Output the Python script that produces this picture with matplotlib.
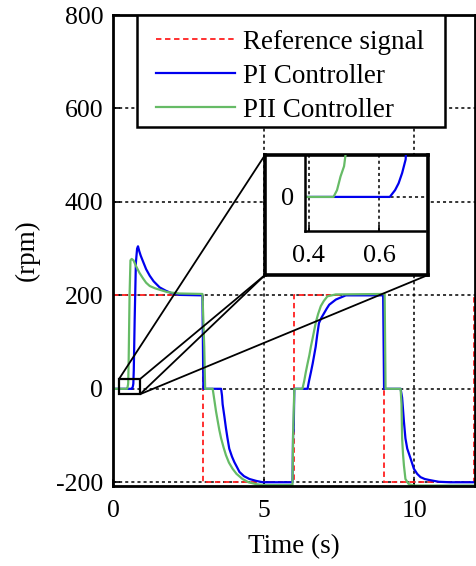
import numpy as np
import matplotlib
matplotlib.use('Agg')
import matplotlib.pyplot as plt
from matplotlib.patches import Rectangle, ConnectionPatch

plt.rcParams['font.family'] = ['Liberation Serif', 'DejaVu Serif']
plt.rcParams['axes.unicode_minus'] = False

# reference square wave
t_ref = [0, 3, 3, 6, 6, 9, 9, 12, 12]
ref = [200, 200, -200, -200, 200, 200, -200, -200, 200]

# PI controller response
t_pi = [0, 0.63, 0.645, 0.655, 0.665, 0.675, 0.69, 0.72, 0.76, 0.80, 0.83, 0.87,
        0.92, 1.0, 1.1, 1.22, 1.35, 1.55, 1.75, 1.93, 2.2, 2.97, 3.0, 3.59, 3.62,
        3.64, 3.7, 3.75, 3.8, 3.86, 3.95, 4.03, 4.12, 4.2, 4.35, 4.53, 4.75, 4.97,
        5.96, 5.98, 6.0, 6.02, 6.46, 6.51, 6.57, 6.63, 6.68, 6.73, 6.78, 6.84,
        6.92, 7.01, 7.1, 7.18, 7.4, 7.73, 8.97, 9.0, 9.55, 9.6, 9.66, 9.71, 9.77,
        9.88, 9.99, 10.1, 10.21, 10.35, 10.49, 10.82, 11.2, 12.02]
pi_rpm = [0, 0, 2, 4, 7, 11, 40, 150, 270, 300, 305, 295,
          285, 272, 256, 242, 230, 217, 210, 205, 201, 200, 0, 0, -15,
          -33, -60, -84, -105, -128, -145, -157, -168, -178, -187, -193, -197, -200,
          -200, -95, -90, 0, 0, 17, 35, 54, 72, 90, 115, 141,
          152, 162, 172, 180, 191, 200, 200, 0, 0, -19, -70, -106, -128,
          -149, -171, -182, -189, -193, -195, -199, -200, -200]

# PII controller response
t_pii = [0, 0.47, 0.48, 0.485, 0.49, 0.5, 0.505, 0.52, 0.55, 0.58, 0.62, 0.68,
         0.77, 0.88, 1.0, 1.1, 1.22, 1.4, 1.55, 1.8, 2.2, 2.97, 3.03, 3.06, 3.31,
         3.37, 3.42, 3.48, 3.53, 3.59, 3.67, 3.75, 3.85, 3.97, 4.1, 4.3, 4.5, 4.75,
         5.0, 5.96, 5.98, 6.02, 6.29, 6.35, 6.4, 6.46, 6.52, 6.57, 6.65, 6.73,
         6.81, 6.9, 7.0, 7.12, 7.4, 9.02, 9.05, 9.55, 9.58, 9.6, 9.63, 9.66, 9.71,
         9.82, 10.0, 12.02]
pii_rpm = [0, 0, 2, 4, 6, 9, 13, 60, 200, 275, 278, 275,
           262, 248, 236, 227, 220, 215, 212, 207, 204, 203, 90, 0, 0,
           -26, -48, -70, -88, -106, -125, -142, -158, -171, -182, -193, -200, -204,
           -206, -206, -100, 0, 0, 17, 35, 54, 72, 90, 115, 141,
           160, 177, 188, 198, 202, 203, 0, 0, -33, -106, -140, -164, -193,
           -204, -207, -207]

red = '#ff2020'
blue = '#0000ee'
green = '#66bb66'
grid_kw = dict(color='black', linestyle=(0, (2, 2)), linewidth=1.1)

fig = plt.figure(figsize=(4.76, 5.66), dpi=100)
ax = fig.add_axes([113 / 476, 80 / 566, 362 / 476, 471 / 566])

ax.plot(t_ref, ref, color=red, linestyle=(0, (3, 2)), linewidth=1.3, label='Reference signal')
ax.plot(t_pi, pi_rpm, color=blue, linewidth=1.6, label='PI Controller')
ax.plot(t_pii, pii_rpm, color=green, linewidth=1.6, label='PII Controller')

ax.set_xlim(0, 12.02)
ax.set_ylim(-208, 800)
ax.set_xticks([0, 5, 10])
ax.set_yticks([-200, 0, 200, 400, 600, 800])
ax.grid(True, **grid_kw)
ax.tick_params(direction='in', length=5, width=1.2, labelsize=18.5, pad=7)
ax.tick_params(axis='x', pad=10)
for s in ax.spines.values():
    s.set_linewidth(2)
ax.set_xlabel('Time (s)', fontsize=19.5, labelpad=9)
ax.set_ylabel('(rpm)', fontsize=19.5, labelpad=12)

# legend frame drawn by hand (contents sit lower than a symmetric pad)
ax.add_patch(Rectangle((0.066, 0.762), 0.851, 0.238, transform=ax.transAxes,
                       facecolor='white', edgecolor='black', linewidth=1.8, zorder=4))
leg = ax.legend(loc='upper center', bbox_to_anchor=(0.49, 1.0), borderaxespad=0,
                fontsize=19.5, handlelength=2.9, handletextpad=0.3, labelspacing=0.33,
                borderpad=0.55, frameon=False)
leg.set_zorder(6)

# zoom rectangle on the main axes
rx0, rx1, ry0, ry1 = 0.2, 0.9, -11.5, 21
ax.add_patch(Rectangle((rx0, ry0), rx1 - rx0, ry1 - ry0, fill=False,
                       edgecolor='black', linewidth=1.6, zorder=5))

# inset frame
box = fig.add_axes([265 / 476, (566 - 275) / 566, 163 / 476, 120 / 566])
box.set_xticks([])
box.set_yticks([])
for s in box.spines.values():
    s.set_linewidth(2.6)
box.set_zorder(5)

for xy_a, xy_b in [((rx0, ry1), (0, 1)), ((rx1, ry1), (0, 0)),
                   ((rx1, ry0), (0, 0)), ((rx1, ry0), (1, 0))]:
    con = ConnectionPatch(xyA=xy_a, coordsA=ax.transData, xyB=xy_b, coordsB=box.transAxes,
                          color='black', linewidth=1.3)
    fig.add_artist(con)

ins = fig.add_axes([305 / 476, (566 - 231) / 566, 120 / 476, 76 / 566])
ins.set_zorder(6)
ins.patch.set_alpha(0)
ins.plot(t_pi, pi_rpm, color=blue, linewidth=1.6)
ins.plot(t_pii, pii_rpm, color=green, linewidth=1.6)
ins.set_xlim(0.389, 0.73)
ins.set_ylim(-10, 12.3)
ins.set_xticks([0.4, 0.6])
ins.set_yticks([0])
ins.grid(True, **grid_kw)
ins.spines['top'].set_visible(False)
ins.spines['right'].set_visible(False)
for s in ['left', 'bottom']:
    ins.spines[s].set_linewidth(1.8)
ins.tick_params(direction='in', length=4, width=1.2, labelsize=19, pad=8)
ins.tick_params(axis='x', pad=10)

fig.savefig('out.png', dpi=100)
